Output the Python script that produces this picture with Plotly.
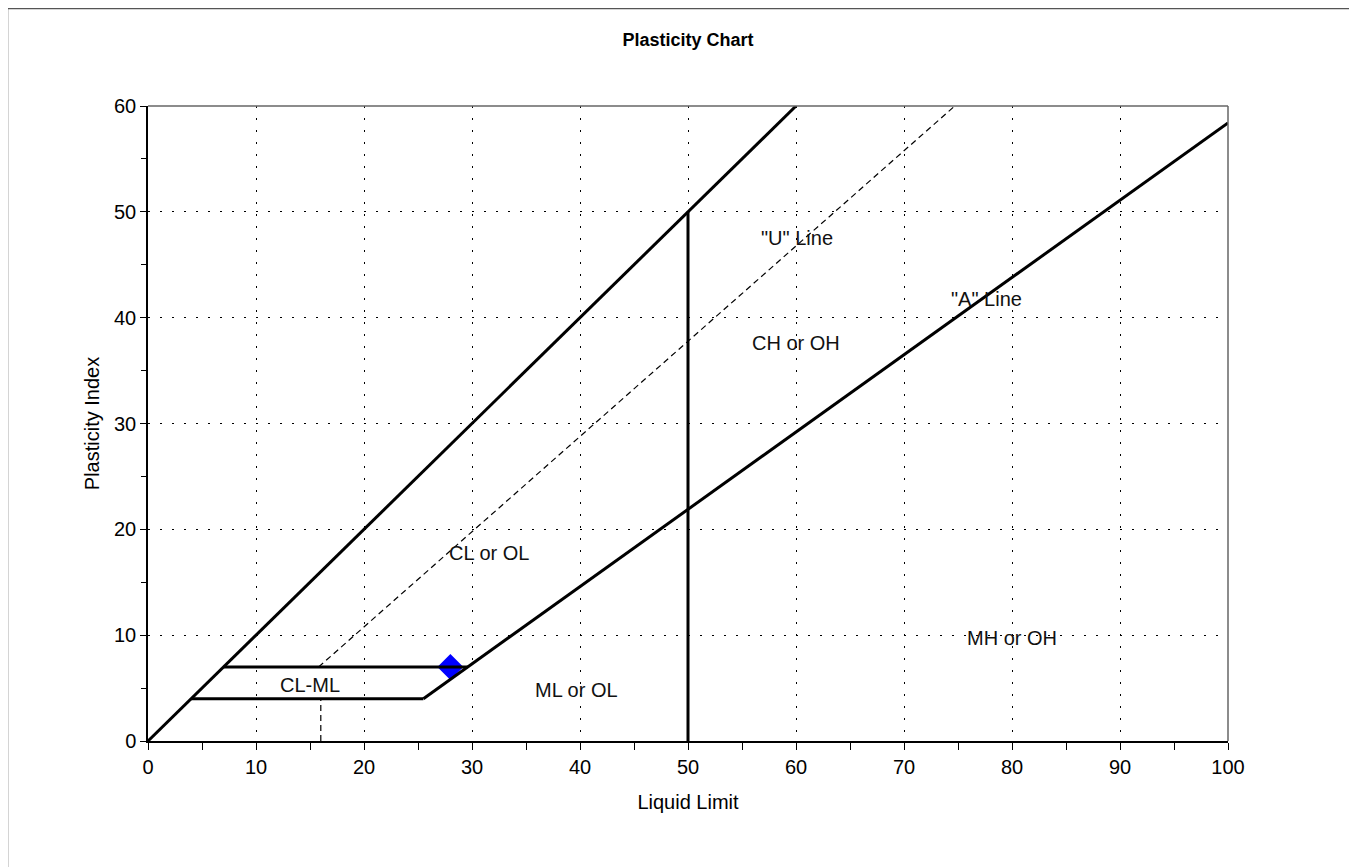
import plotly.graph_objects as go

# Data
ll_equal = [0, 60]
pi_equal = [0, 60]
ll_vert50 = [50, 50]
pi_vert50 = [0, 50]
ll_clml_upper = [7, 29.6]
pi_clml_upper = [7, 7]
ll_clml_lower = [4, 25.5]
pi_clml_lower = [4, 4]
ll_a_line = [25.5, 100]
pi_a_line = [4, 58.4]
ll_u_line = [15.8, 74.7]
pi_u_line = [7, 60]
ll_u_vert = [16, 16]
pi_u_vert = [0, 4]
sample_ll = [28]
sample_pi = [7]

labels = ["CL-ML", "ML or OL", "CL or OL", "CH or OH", "MH or OH", '"U" Line', '"A" Line']
label_x = [15, 39.7, 31.6, 60, 80, 60.1, 77.6]
label_y = [5.3, 4.8, 17.8, 37.6, 9.7, 47.5, 41.8]

FONT = "Liberation Sans, Arial"

fig = go.Figure()

fig.add_trace(go.Scatter(x=sample_ll, y=sample_pi, mode="markers",
                         marker=dict(symbol="diamond", size=20, color="#0000FF"),
                         showlegend=False))

solid = dict(color="black", width=3)
for xs, ys in [(ll_equal, pi_equal), (ll_vert50, pi_vert50), (ll_clml_upper, pi_clml_upper),
               (ll_clml_lower, pi_clml_lower), (ll_a_line, pi_a_line)]:
    fig.add_trace(go.Scatter(x=xs, y=ys, mode="lines", line=solid, showlegend=False))

dashed = dict(color="black", width=1.2, dash="6px,4px")
for xs, ys in [(ll_u_line, pi_u_line), (ll_u_vert, pi_u_vert)]:
    fig.add_trace(go.Scatter(x=xs, y=ys, mode="lines", line=dashed, showlegend=False))

for t, x, y in zip(labels, label_x, label_y):
    fig.add_annotation(x=x, y=y, text=t, showarrow=False,
                       font=dict(family=FONT, size=20, color="#111"))

# outer frame (around the figure)
fig.add_shape(type="rect", xref="paper", yref="paper",
              x0=-140.5 / 1080, x1=1.5, y0=-0.5, y1=1 + 97.5 / 635,
              line=dict(color="#555", width=1.5), layer="below")
# top and right plot frame (grey)
fig.add_shape(type="line", xref="paper", yref="paper", x0=0, x1=1, y0=1, y1=1,
              line=dict(color="#666", width=1.5))
fig.add_shape(type="line", xref="paper", yref="paper", x0=1, x1=1, y0=0, y1=1,
              line=dict(color="#666", width=1.5))

axis_font = dict(family=FONT, size=20, color="black")
fig.update_layout(
    width=1349, height=859,
    margin=dict(l=140, r=129, t=98, b=126),
    paper_bgcolor="white", plot_bgcolor="white",
    title=dict(text="<b>Plasticity Chart</b>", x=0.5, xref="paper", xanchor="center",
               y=1 - 32 / 859, yanchor="middle",
               font=dict(family=FONT, size=18, color="black")),
    font=dict(family=FONT),
)
fig.update_xaxes(range=[0, 100], tick0=0, dtick=10, ticks="outside", ticklen=7,
                 tickcolor="black", tickfont=axis_font,
                 showline=True, linecolor="black", linewidth=1.5, mirror=False,
                 showgrid=True, gridcolor="black", gridwidth=1, griddash="2px,10px",
                 zeroline=False,
                 minor=dict(dtick=5, ticks="outside", ticklen=7, tickcolor="black", showgrid=False),
                 title=dict(text="Liquid Limit", font=dict(family=FONT, size=20, color="black"),
                            standoff=18))
fig.update_yaxes(range=[0, 60], tick0=0, dtick=10, ticks="outside", ticklen=6,
                 tickcolor="black", tickfont=axis_font,
                 showline=True, linecolor="black", linewidth=1.5, mirror=False,
                 showgrid=True, gridcolor="black", gridwidth=1, griddash="2px,10px",
                 zeroline=False,
                 minor=dict(dtick=5, ticks="outside", ticklen=5, tickcolor="black", showgrid=False),
                 title=dict(text="Plasticity Index", font=dict(family=FONT, size=20, color="black"),
                            standoff=9))

fig.write_html("out.html")
